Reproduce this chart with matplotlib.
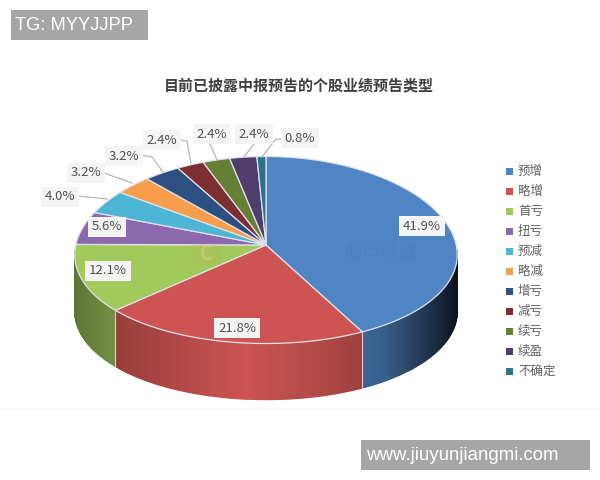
import numpy as np
import matplotlib
matplotlib.use('Agg')
import matplotlib.pyplot as plt
from matplotlib.patches import Polygon, Rectangle

plt.rcParams['font.family'] = ['Noto Sans CJK SC', 'DejaVu Sans']

categories = ['预增', '略增', '首亏', '扭亏', '预减', '略减', '增亏', '减亏', '续亏', '续盈', '不确定']
values = [41.9, 21.8, 12.1, 5.6, 4.0, 3.2, 3.2, 2.4, 2.4, 2.4, 0.8]
colors = ['#4f85c5', '#cd5452', '#a2c95c', '#8c69ae', '#4db6d4', '#f79d4c',
          '#2d5080', '#7c2e31', '#667f35', '#4e3d6d', '#2a7189']

# pixel layout of the pie
cx, cy = 266, 250
apex_y = 245
rx, ry = 191, 93.5
depth = 56
persp = 0.05  # back of the pie is a little narrower than the front

# label centres
label_pos = [(422, 226), (237, 328), (108, 271), (107, 227), (60, 197), (86, 173),
             (124, 156), (162, 140), (212, 134), (254, 134), (300, 138)]
leaders = {4: [(78, 196), (107, 199)],
           5: [(104, 173), (132, 183)],
           6: [(140, 155), (152, 157), (163, 172)],
           7: [(180, 140), (187, 141), (191, 163)],
           8: [(209, 142), (217, 160)],
           9: [(254, 144), (244, 157)],
           10: [(283, 139), (276, 139), (262, 157)]}


def edge(t):
    return cx + rx * np.sin(t) * (1 - persp * np.cos(t)), cy - ry * np.cos(t)


def shade(color, t):
    # side wall gets darker towards the right, a bit towards the left
    f = np.interp(np.sin(t), [-1, -0.7, -0.1, 0.3, 0.6, 0.85, 1], [0.58, 0.76, 1.0, 0.85, 0.7, 0.35, 0.12])
    return tuple(np.array(matplotlib.colors.to_rgb(color)) * f)


fig = plt.figure(figsize=(6, 4.8), dpi=100)
ax = fig.add_axes([0, 0, 1, 1])
ax.set_xlim(0, 600)
ax.set_ylim(480, 0)
ax.axis('off')

ax.plot([0, 600], [408, 408], color='#f6f6f6', lw=1, zorder=0)

fracs = np.array(values) / sum(values)
stops = np.concatenate([[0], np.cumsum(fracs)]) * 2 * np.pi

# side wall, only the front half shows
for i in range(len(values)):
    a0, a1 = max(stops[i], np.pi / 2), min(stops[i + 1], 3 * np.pi / 2)
    if a1 <= a0:
        continue
    ts = np.linspace(a0, a1, int((a1 - a0) * 60) + 2)
    for t0, t1 in zip(ts[:-1], ts[1:]):
        x0, y0 = edge(t0)
        x1, y1 = edge(t1)
        c = shade(colors[i], (t0 + t1) / 2)
        ax.add_patch(Polygon([(x0, y0), (x1, y1), (x1, y1 + depth), (x0, y0 + depth)],
                             fc=c, ec=c, lw=1.0, zorder=2))
    if stops[i] >= np.pi / 2:
        x0, y0 = edge(stops[i])
        ax.plot([x0, x0], [y0, y0 + depth], color='#e8c8c8', lw=0.8, zorder=3)

# top face
for i in range(len(values)):
    ts = np.linspace(stops[i], stops[i + 1], 80)
    xs, ys = edge(ts)
    pts = [(cx, apex_y)] + list(zip(xs, ys))
    ax.add_patch(Polygon(pts, fc=colors[i], ec='#dfe3ea', lw=0.9, zorder=4))

# faint watermark
ax.add_patch(Rectangle((193, 243), 29, 22, fc='#c9a24e', ec='none', alpha=0.15, zorder=5))
ax.text(207, 254, 'C', color='#e0d49c', alpha=0.4, fontsize=15, fontweight='bold',
        ha='center', va='center', zorder=5)
ax.text(380, 252, '股市频道', color='#3f6ea6', alpha=0.18, fontsize=13,
        ha='center', va='center', zorder=5)

for i, pts in leaders.items():
    ax.plot([p[0] for p in pts], [p[1] for p in pts], color='#b4b4b4', lw=0.9, zorder=5)

for v, (x, y) in zip(values, label_pos):
    ax.text(x, y, '%.1f%%' % v, color='#505050', fontsize=9.5, ha='center', va='center', zorder=6,
            bbox=dict(boxstyle='square,pad=0.3', fc='#f4f4f4', ec='none'))

ax.text(299, 85, '目前已披露中报预告的个股业绩预告类型', color='#404040', fontsize=10.8,
        fontweight='bold', ha='center', va='center')

# legend
for i, name in enumerate(categories):
    y = 171 + i * 20
    ax.add_patch(Rectangle((506, y - 3.5), 7, 7, fc=colors[i], ec='none'))
    ax.text(518, y, name, color='#606060', fontsize=9, ha='left', va='center')

# overlay banners
ax.add_patch(Rectangle((11, 10), 137, 30, fc='#a6a6a6', ec='none', zorder=7))
ax.text(15, 25, 'TG: MYYJJPP', color='white', fontsize=13.2, family='Liberation Sans',
        ha='left', va='center', zorder=8)
ax.add_patch(Rectangle((361, 440), 229, 30, fc='#a6a6a6', ec='none', zorder=7))
ax.text(366, 455, 'www.jiuyunjiangmi.com', color='white', fontsize=13.4, family='Liberation Sans',
        ha='left', va='center', zorder=8)

fig.savefig('out.png', dpi=100)
